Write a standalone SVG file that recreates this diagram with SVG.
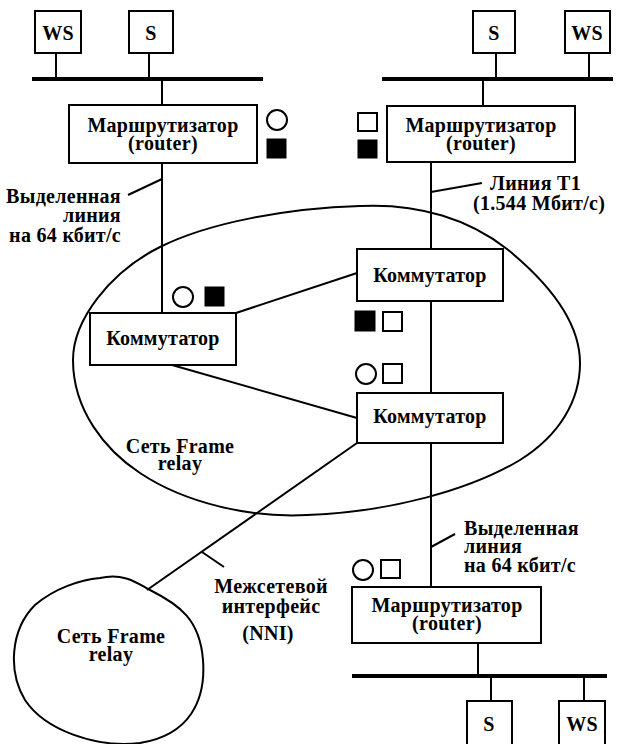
<svg xmlns="http://www.w3.org/2000/svg" width="631" height="744" viewBox="0 0 631 744">
  <style>
    .box { fill: #fff; stroke: #000; stroke-width: 2; }
    .wire { fill: none; stroke: #000; stroke-width: 2; }
    .bus { fill: none; stroke: #000; stroke-width: 4; }
    .cloud { fill: none; stroke: #000; stroke-width: 2; }
    .t { font-family: "Liberation Serif", "Times New Roman", serif; font-size: 20px; font-weight: bold; letter-spacing: 0.3px; fill: #000; }
    .c { text-anchor: middle; }
    .r { text-anchor: end; }
    .open { fill: #fff; stroke: #000; stroke-width: 2; }
    .solid { fill: #000; stroke: #000; stroke-width: 1; }
  </style>

  <!-- Frame relay networks -->
  <g id="net-main">
    <path class="cloud" d="M73,360 C73,320 110,272 160,247 C210,222 290,208 360,206 C420,203 470,220 507,249 C545,280 580,320 580,363 C580,400 560,435 520,460 C470,490 390,512 307,515 C250,518 185,503 140,473 C105,450 73,410 73,360 Z"/>
    <text class="t c" x="180" y="453">Сеть Frame</text>
    <text class="t c" x="180" y="470">relay</text>
  </g>
  <g id="net-second">
    <path class="cloud" d="M100,578 C125,572 140,585 150,590 C180,605 200,620 203,660 C206,700 190,735 140,743 C95,748 45,730 25,700 C8,672 10,630 35,605 C55,588 80,580 100,578 Z"/>
    <text class="t c" x="111" y="643">Сеть Frame</text>
    <text class="t c" x="111" y="661">relay</text>
  </g>

  <!-- connectors -->
  <g id="connectors">
    <!-- top-left LAN -->
    <line class="bus" x1="32" y1="79" x2="263" y2="79"/>
    <line class="wire" x1="56" y1="53" x2="56" y2="79"/>
    <line class="wire" x1="149" y1="53" x2="149" y2="79"/>
    <line class="wire" x1="162" y1="79" x2="162" y2="105"/>
    <!-- top-right LAN -->
    <line class="bus" x1="382" y1="79" x2="613" y2="79"/>
    <line class="wire" x1="496" y1="53" x2="496" y2="79"/>
    <line class="wire" x1="589" y1="53" x2="589" y2="79"/>
    <line class="wire" x1="483" y1="79" x2="483" y2="106"/>
    <!-- bottom-right LAN -->
    <line class="bus" x1="352" y1="676" x2="607" y2="676"/>
    <line class="wire" x1="478" y1="643" x2="478" y2="676"/>
    <line class="wire" x1="491" y1="676" x2="491" y2="701"/>
    <line class="wire" x1="584" y1="676" x2="584" y2="701"/>
    <!-- access lines -->
    <line class="wire" x1="162" y1="163" x2="162" y2="313"/>
    <line class="wire" x1="431" y1="162" x2="431" y2="249"/>
    <line class="wire" x1="431" y1="301" x2="431" y2="393"/>
    <line class="wire" x1="431" y1="443" x2="431" y2="587"/>
    <!-- trunks between switches -->
    <line class="wire" x1="236" y1="313" x2="357" y2="273"/>
    <line class="wire" x1="172" y1="365" x2="357" y2="418"/>
    <!-- NNI link -->
    <line class="wire" x1="357" y1="443" x2="147" y2="590"/>
    <!-- label leaders -->
    <line class="wire" x1="128" y1="195" x2="162" y2="179" stroke-width="1.5"/>
    <line class="wire" x1="431" y1="192" x2="482" y2="183" stroke-width="1.5"/>
    <line class="wire" x1="431" y1="547" x2="455" y2="534" stroke-width="1.5"/>
    <line class="wire" x1="202" y1="552" x2="224" y2="567" stroke-width="1.5"/>
  </g>

  <!-- stations -->
  <g id="ws-top-left">
    <rect class="box" x="35" y="11" width="46" height="42"/>
    <text class="t c" x="58" y="40">WS</text>
  </g>
  <g id="s-top-left">
    <rect class="box" x="129" y="11" width="44" height="42"/>
    <text class="t c" x="151" y="40">S</text>
  </g>
  <g id="s-top-right">
    <rect class="box" x="473" y="11" width="42" height="42"/>
    <text class="t c" x="494" y="40">S</text>
  </g>
  <g id="ws-top-right">
    <rect class="box" x="565" y="11" width="45" height="42"/>
    <text class="t c" x="587" y="40">WS</text>
  </g>
  <g id="s-bottom">
    <rect class="box" x="467" y="701" width="45" height="50"/>
    <text class="t c" x="489" y="731">S</text>
  </g>
  <g id="ws-bottom">
    <rect class="box" x="559" y="701" width="46" height="50"/>
    <text class="t c" x="582" y="731">WS</text>
  </g>

  <!-- routers -->
  <g id="router-left">
    <rect class="box" x="69" y="105" width="188" height="58"/>
    <text class="t c" x="163" y="132">Маршрутизатор</text>
    <text class="t c" x="163" y="150">(router)</text>
    <circle class="open" cx="277" cy="120" r="10"/>
    <rect class="solid" x="267" y="139" width="19" height="19"/>
  </g>
  <g id="router-right">
    <rect class="box" x="387" y="106" width="188" height="56"/>
    <text class="t c" x="481" y="132">Маршрутизатор</text>
    <text class="t c" x="481" y="150">(router)</text>
    <rect class="open" x="358" y="113" width="19" height="18"/>
    <rect class="solid" x="358" y="140" width="19" height="18"/>
  </g>
  <g id="router-bottom">
    <rect class="box" x="352" y="587" width="189" height="56"/>
    <text class="t c" x="447" y="612">Маршрутизатор</text>
    <text class="t c" x="447" y="630">(router)</text>
    <circle class="open" cx="363" cy="570" r="10"/>
    <rect class="open" x="381" y="560" width="19" height="18"/>
  </g>

  <!-- switches -->
  <g id="switch-left">
    <rect class="box" x="90" y="313" width="146" height="52"/>
    <text class="t c" x="163" y="345">Коммутатор</text>
    <circle class="open" cx="183" cy="297" r="10"/>
    <rect class="solid" x="205" y="287" width="19" height="19"/>
  </g>
  <g id="switch-top">
    <rect class="box" x="357" y="249" width="146" height="52"/>
    <text class="t c" x="430" y="282">Коммутатор</text>
    <rect class="solid" x="355" y="311" width="20" height="20"/>
    <rect class="open" x="383" y="312" width="19" height="19"/>
  </g>
  <g id="switch-bottom">
    <rect class="box" x="357" y="393" width="146" height="50"/>
    <text class="t c" x="430" y="423">Коммутатор</text>
    <circle class="open" cx="366" cy="374" r="10"/>
    <rect class="open" x="383" y="364" width="19" height="19"/>
  </g>

  <!-- line labels -->
  <g id="label-line-left">
    <text class="t r" x="121" y="203">Выделенная</text>
    <text class="t r" x="121" y="222">линия</text>
    <text class="t r" x="121" y="242">на 64 кбит/с</text>
  </g>
  <g id="label-t1">
    <text class="t" x="490" y="190">Линия T1</text>
    <text class="t" x="473" y="210">(1.544 Мбит/с)</text>
  </g>
  <g id="label-line-right">
    <text class="t" x="464" y="535">Выделенная</text>
    <text class="t" x="464" y="553">линия</text>
    <text class="t" x="464" y="572">на 64 кбит/с</text>
  </g>
  <g id="label-nni">
    <text class="t c" x="271" y="593">Межсетевой</text>
    <text class="t c" x="271" y="613">интерфейс</text>
    <text class="t c" x="268" y="640">(NNI)</text>
  </g>
</svg>
